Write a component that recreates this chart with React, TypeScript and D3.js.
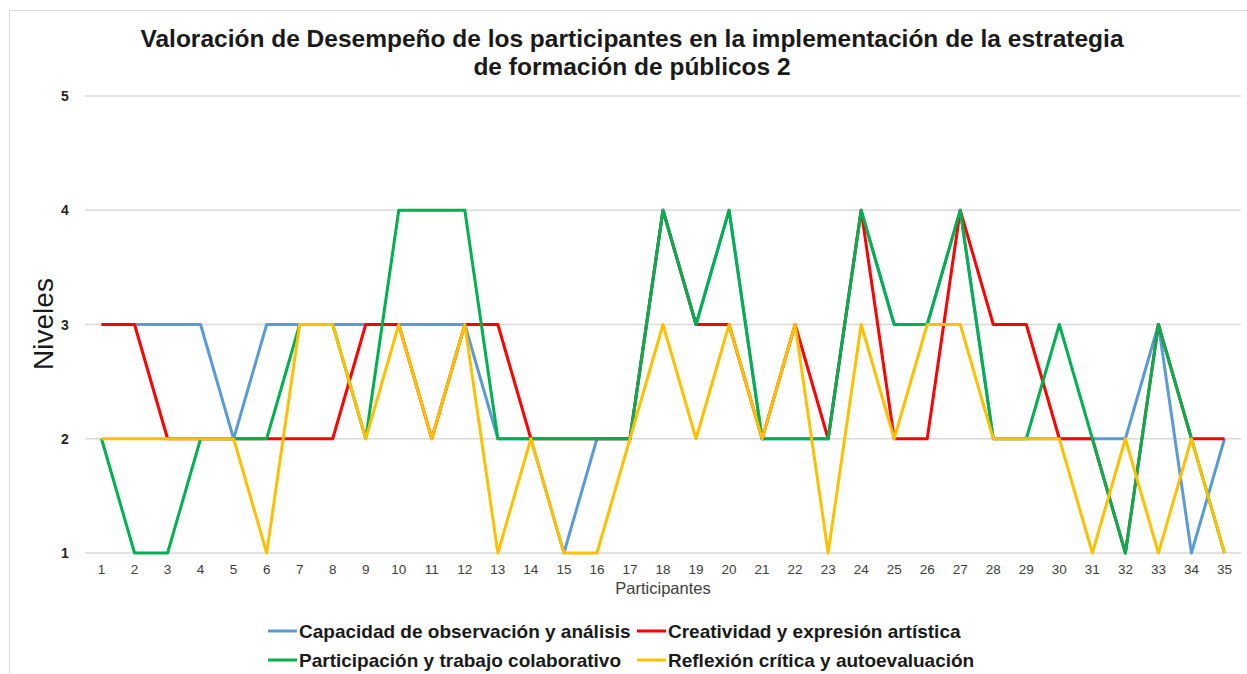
import React from "react";
import * as d3 from "d3";

const participants = d3.range(1, 36).map(String);
const yTicks = [1, 2, 3, 4, 5];

const capacidad = [3,3,3,3,2,3,3,3,3,3,3,3,2,2,1,2,2,4,3,4,2,2,2,4,3,3,4,2,2,2,2,2,3,1,2];
const creatividad = [3,3,2,2,2,2,2,2,3,3,2,3,3,2,2,2,2,4,3,3,2,3,2,4,2,2,4,3,3,2,2,1,3,2,2];
const participacion = [2,1,1,2,2,2,3,3,2,4,4,4,2,2,2,2,2,4,3,4,2,2,2,4,3,3,4,2,2,3,2,1,3,2,1];
const reflexion = [2,2,2,2,2,1,3,3,2,3,2,3,1,2,1,1,2,3,2,3,2,3,1,3,2,3,3,2,2,2,1,2,1,2,1];

const seriesNames = [
  "Capacidad de observación y análisis",
  "Creatividad y expresión artística",
  "Participación y trabajo colaborativo",
  "Reflexión crítica y autoevaluación",
];
const seriesColors = ["#5B9BD5", "#FF0000", "#00B050", "#FFC000"];
const seriesData = [capacidad, creatividad, participacion, reflexion];

const W = 1247, H = 674;
const left = 85, right = 1241, top = 96, bottom = 553;

export default function App() {
  const x = d3.scaleBand<string>().domain(participants).range([left, right]);
  const y = d3.scaleLinear().domain([1, 5]).range([bottom, top]);
  const line = d3.line<number>()
    .x((_, i) => (x(participants[i]) as number) + x.bandwidth() / 2)
    .y((v) => y(v));
  const font = "'Liberation Sans', Arial, sans-serif";
  const legendPos = [
    { lx: 268, ly: 631 },
    { lx: 637, ly: 631 },
    { lx: 268, ly: 660 },
    { lx: 637, ly: 660 },
  ];
  return (
    <svg width={W} height={H} style={{ position: "absolute", left: 0, top: 0, background: "#fff" }} fontFamily={font}>
      <rect x={9.5} y={10.5} width={W + 20} height={H + 20} fill="#fff" stroke="#D9D9D9" strokeWidth={1} />
      <text x={632} y={47} textAnchor="middle" fontSize={24.5} fontWeight="bold" fill="#1a1a1a">
        Valoración de Desempeño de los participantes en la implementación de la estrategia
      </text>
      <text x={632} y={75} textAnchor="middle" fontSize={24.5} fontWeight="bold" fill="#1a1a1a">
        de formación de públicos 2
      </text>
      {yTicks.map((t) => (
        <g key={t}>
          <line x1={left} x2={right} y1={y(t)} y2={y(t)} stroke="#D9D9D9" strokeWidth={1.5} />
          <text x={65} y={y(t) + 5} textAnchor="middle" fontSize={14} fontWeight="bold" fill="#262626">{t}</text>
        </g>
      ))}
      {participants.map((p) => (
        <text key={p} x={(x(p) as number) + x.bandwidth() / 2} y={574} textAnchor="middle" fontSize={13.5} fill="#404040">{p}</text>
      ))}
      <text x={663} y={594} textAnchor="middle" fontSize={16.5} fill="#404040">Participantes</text>
      <text transform={`translate(53,324) rotate(-90)`} textAnchor="middle" fontSize={28} fill="#1a1a1a">Niveles</text>
      {seriesData.map((d, i) => (
        <path key={i} d={line(d) as string} fill="none" stroke={seriesColors[i]} strokeWidth={3} strokeLinejoin="round" />
      ))}
      {seriesNames.map((n, i) => (
        <g key={n}>
          <line x1={legendPos[i].lx} x2={legendPos[i].lx + 29} y1={legendPos[i].ly} y2={legendPos[i].ly} stroke={seriesColors[i]} strokeWidth={3} />
          <text x={legendPos[i].lx + 31} y={legendPos[i].ly + 7} fontSize={19} fontWeight="bold" fill="#1a1a1a">{n}</text>
        </g>
      ))}
    </svg>
  );
}
